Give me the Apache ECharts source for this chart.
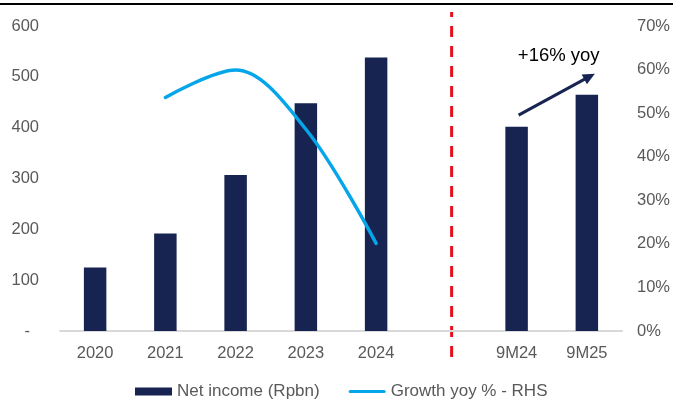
<!DOCTYPE html>
<html>
<head>
<meta charset="utf-8">
<script src="https://cdn.jsdelivr.net/npm/echarts@6/dist/echarts.min.js"></script>
<style>
  html, body { margin: 0; padding: 0; background: #ffffff; }
  #chart { width: 673px; height: 403px; }
</style>
</head>
<body>
<div id="chart"></div>
<script>
// Net income by period; the blank slot separates full years from nine-month figures
const categories = ['2020', '2021', '2022', '2023', '2024', '', '9M24', '9M25'];
const netIncome = [125, 192, 307, 448, 538, null, 402, 465];
const growthYoy = [null, 53.6, 59.9, 46.3, 20.1, null, null, null];
const leftTicks = [0, 100, 200, 300, 400, 500, 600];
const rightTicks = [0, 10, 20, 30, 40, 50, 60, 70];

const FONT = '"Liberation Sans", Arial, Helvetica, sans-serif';
const NAVY = '#172351';
const BLUE = '#05A6E9';
const GREY_TEXT = '#595959';

// Thin rounded bar used as the legend mark of the growth line (empty corners keep the 0..8 height)
const LINE_ICON = 'path://M0,0L0,0M1.6,2.4L35.4,2.4A1.6,1.6,0,0,1,35.4,5.6L1.6,5.6A1.6,1.6,0,0,1,1.6,2.4ZM37,8L37,8';

const chart = echarts.init(document.getElementById('chart'), null, { renderer: 'canvas' });

chart.setOption({
  animation: false,
  backgroundColor: '#ffffff',
  textStyle: { fontFamily: FONT },
  grid: { left: 60, right: 51, top: 26, bottom: 72, containLabel: false },
  legend: {
    left: 135,
    top: 383,
    padding: 0,
    itemWidth: 37,
    itemHeight: 8,
    itemGap: 29,
    textStyle: { fontFamily: FONT, fontSize: 17, color: GREY_TEXT },
    data: [
      { name: 'Net income (Rpbn)', icon: 'rect' },
      { name: 'Growth yoy % - RHS', icon: LINE_ICON }
    ]
  },
  xAxis: {
    type: 'category',
    data: categories,
    axisLine: { lineStyle: { color: '#D9D9D9', width: 2 } },
    axisTick: { show: false },
    axisLabel: { fontFamily: FONT, fontSize: 16.5, color: GREY_TEXT, margin: 14 }
  },
  yAxis: [
    {
      type: 'value',
      min: leftTicks[0],
      max: leftTicks[leftTicks.length - 1],
      interval: leftTicks[1] - leftTicks[0],
      splitLine: { show: false },
      axisLine: { show: false },
      axisTick: { show: false },
      axisLabel: {
        fontFamily: FONT, fontSize: 16.5, color: GREY_TEXT, margin: 21,
        formatter: v => v === 0 ? '{dash|-}' : String(v),
        rich: { dash: { fontFamily: FONT, fontSize: 16.5, color: GREY_TEXT, padding: [0, 9, 0, 0] } }
      }
    },
    {
      type: 'value',
      min: rightTicks[0],
      max: rightTicks[rightTicks.length - 1],
      interval: rightTicks[1] - rightTicks[0],
      splitLine: { show: false },
      axisLine: { show: false },
      axisTick: { show: false },
      axisLabel: { fontFamily: FONT, fontSize: 16.5, color: GREY_TEXT, margin: 15, formatter: v => v + '%' }
    }
  ],
  series: [
    {
      name: 'Net income (Rpbn)',
      type: 'bar',
      data: netIncome,
      barWidth: '32%',
      itemStyle: { color: NAVY }
    },
    {
      name: 'Growth yoy % - RHS',
      type: 'line',
      yAxisIndex: 1,
      data: growthYoy,
      smooth: 0.34,
      symbol: 'none',
      connectNulls: false,
      lineStyle: { color: BLUE, width: 3.5, cap: 'round' },
      itemStyle: { color: BLUE }
    }
  ]
});

// Decorations placed from the axes: divider, top rule and the 9M growth arrow
function px(catIndex, value, axis) {
  return chart.convertToPixel({ xAxisIndex: 0, yAxisIndex: axis || 0 }, [catIndex, value]);
}
const c5 = px(5, 0), c6 = px(6, 0);
const dividerX = c5[0] + (c6[0] - c5[0]) * 0.075;

const from = px(6, netIncome[6]);
const to = px(7, netIncome[7]);
const tail = [from[0] + 2, from[1] - 11.5];
const tip = [to[0] + 8, to[1] - 21];
const ang = Math.atan2(tip[1] - tail[1], tip[0] - tail[0]);
const headLen = 12, headHalf = 5.5;
const base = [tip[0] - headLen * Math.cos(ang), tip[1] - headLen * Math.sin(ang)];
const nx = -Math.sin(ang), ny = Math.cos(ang);
const yoy = Math.round((netIncome[7] / netIncome[6] - 1) * 100);

chart.setOption({
  graphic: [
    { type: 'rect', silent: true, shape: { x: 0, y: 3, width: 673, height: 2 }, style: { fill: '#000000' } },
    {
      type: 'line', silent: true,
      shape: { x1: dividerX, y1: 12, x2: dividerX, y2: 358 },
      style: { stroke: '#E3101E', lineWidth: 3, lineDash: [11, 9], lineDashOffset: 6 }
    },
    {
      type: 'line', silent: true,
      shape: { x1: tail[0], y1: tail[1], x2: base[0] + 2 * Math.cos(ang), y2: base[1] + 2 * Math.sin(ang) },
      style: { stroke: NAVY, lineWidth: 3 }
    },
    {
      type: 'polygon', silent: true,
      shape: { points: [tip, [base[0] + nx * headHalf, base[1] + ny * headHalf], [base[0] - nx * headHalf, base[1] - ny * headHalf]] },
      style: { fill: NAVY }
    },
    {
      type: 'text', silent: true,
      x: (tail[0] + tip[0]) / 2 + 2, y: 56,
      style: {
        text: '+' + yoy + '% yoy', fontFamily: FONT, fontSize: 18.5, fill: '#000000',
        align: 'center', verticalAlign: 'middle'
      }
    }
  ]
});
</script>
</body>
</html>
